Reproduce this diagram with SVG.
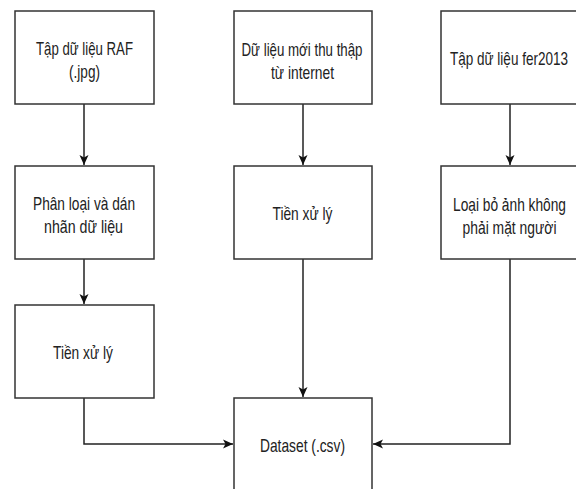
<svg xmlns="http://www.w3.org/2000/svg" width="576" height="489" viewBox="0 0 576 489">
<defs>
<style>
.box{fill:#ffffff;stroke:#333333;stroke-width:1.5}
.lbl{font-family:"Liberation Sans",Arial,sans-serif;font-size:19px;fill:#222222;text-anchor:middle}
.edge{fill:none;stroke:#222222;stroke-width:1.5}
</style>
<marker id="arr" markerUnits="userSpaceOnUse" markerWidth="12" markerHeight="12" viewBox="0 0 12 12" refX="11" refY="6" orient="auto">
<path d="M1,1.5 L11,6 L1,10.5 L3.5,6 Z" fill="#111111"/>
</marker>
</defs>
<rect width="576" height="489" fill="#ffffff"/>
<g id="connectors">
<path class="edge" d="M84,104 V165" marker-end="url(#arr)"/>
<path class="edge" d="M84,259 V304" marker-end="url(#arr)"/>
<path class="edge" d="M303,104 V165" marker-end="url(#arr)"/>
<path class="edge" d="M303,259 V397" marker-end="url(#arr)"/>
<path class="edge" d="M510,104 V165" marker-end="url(#arr)"/>
<path class="edge" d="M84,398 V444 H233" marker-end="url(#arr)"/>
<path class="edge" d="M510,259 V444 H373" marker-end="url(#arr)"/>
</g>
<g id="raf">
<rect class="box" x="15" y="11" width="139" height="93"/>
<text class="lbl" x="84.5" y="55" textLength="97" lengthAdjust="spacingAndGlyphs">Tập dữ liệu RAF</text>
<text class="lbl" x="84.5" y="78" textLength="31" lengthAdjust="spacingAndGlyphs">(.jpg)</text>
</g>
<g id="internet">
<rect class="box" x="234" y="11" width="138" height="93"/>
<text class="lbl" x="302" y="55.5" textLength="121" lengthAdjust="spacingAndGlyphs">Dữ liệu mới thu thập</text>
<text class="lbl" x="302.5" y="78.5" textLength="63" lengthAdjust="spacingAndGlyphs">từ internet</text>
</g>
<g id="fer2013">
<rect class="box" x="441" y="11" width="136" height="93"/>
<text class="lbl" x="509" y="64.5" textLength="118" lengthAdjust="spacingAndGlyphs">Tập dữ liệu fer2013</text>
</g>
<g id="label">
<rect class="box" x="15" y="166" width="139" height="93"/>
<text class="lbl" x="84" y="210" textLength="102" lengthAdjust="spacingAndGlyphs">Phân loại và dán</text>
<text class="lbl" x="83.5" y="232.5" textLength="79" lengthAdjust="spacingAndGlyphs">nhãn dữ liệu</text>
</g>
<g id="preprocess-mid">
<rect class="box" x="234" y="166" width="138" height="93"/>
<text class="lbl" x="302.5" y="219.5" textLength="60" lengthAdjust="spacingAndGlyphs">Tiền xử lý</text>
</g>
<g id="filter">
<rect class="box" x="441" y="166" width="136" height="93"/>
<text class="lbl" x="509.5" y="210.5" textLength="113" lengthAdjust="spacingAndGlyphs">Loại bỏ ảnh không</text>
<text class="lbl" x="509.5" y="233.5" textLength="94" lengthAdjust="spacingAndGlyphs">phải mặt người</text>
</g>
<g id="preprocess-left">
<rect class="box" x="15" y="305" width="139" height="93"/>
<text class="lbl" x="83" y="359" textLength="60" lengthAdjust="spacingAndGlyphs">Tiền xử lý</text>
</g>
<g id="dataset">
<rect class="box" x="234" y="398" width="138" height="93"/>
<text class="lbl" x="302.5" y="451.5" textLength="85" lengthAdjust="spacingAndGlyphs">Dataset (.csv)</text>
</g>
</svg>
